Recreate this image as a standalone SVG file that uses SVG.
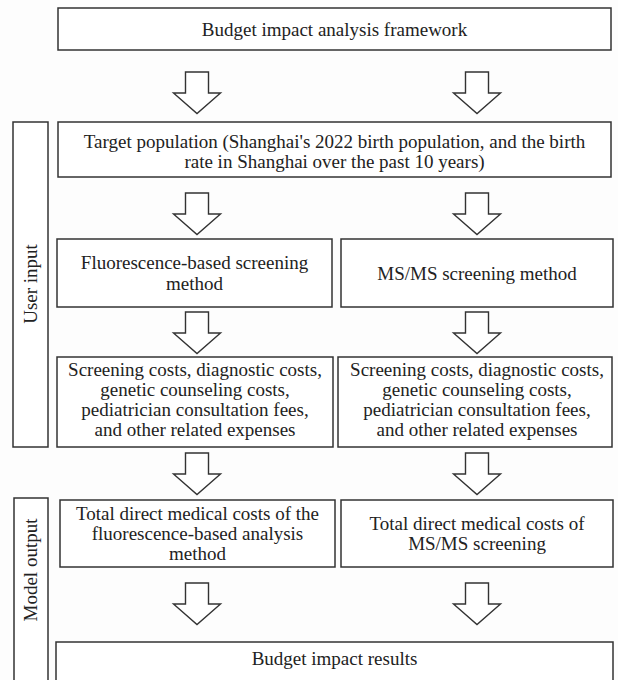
<svg xmlns="http://www.w3.org/2000/svg" xmlns:xlink="http://www.w3.org/1999/xlink" width="618" height="680" viewBox="0 0 618 680">
<style>
.box{fill:#ffffff;stroke:#333333;stroke-width:1.5}
.t{font-family:"Liberation Serif","Times New Roman",serif;font-size:19px;fill:#222222;text-anchor:middle}
.arr{fill:#ffffff;stroke:#333333;stroke-width:1.4;stroke-linejoin:miter}
</style>
<defs>
<path id="ar" class="arr" d="M -11.5 0 H 11.5 V 21 H 23.5 L 0 41.5 L -23.5 21 H -11.5 Z"/>
</defs>
<rect width="618" height="680" fill="#fdfdfd"/>
<g id="top">
<rect class="box" x="58" y="8" width="553" height="42"/>
<text class="t" x="334.5" y="36">Budget impact analysis framework</text>
</g>
<g id="user-input">
<rect class="box" x="13" y="122" width="35" height="325"/>
<text class="t" transform="translate(37,284) rotate(-90)">User input</text>
</g>
<g id="target">
<rect class="box" x="58" y="122" width="553" height="55"/>
<text class="t" x="334.5" y="148">Target population (Shanghai's 2022 birth population, and the birth</text>
<text class="t" x="334.5" y="168">rate in Shanghai over the past 10 years)</text>
</g>
<g id="fluor">
<rect class="box" x="57" y="239" width="275" height="68"/>
<text class="t" x="194.5" y="269">Fluorescence-based screening</text>
<text class="t" x="194.5" y="290">method</text>
</g>
<g id="msms">
<rect class="box" x="341" y="239" width="272" height="68"/>
<text class="t" x="477" y="280">MS/MS screening method</text>
</g>
<g id="costs-left">
<rect class="box" x="57" y="357" width="276" height="90"/>
<text class="t" x="195" y="376">Screening costs, diagnostic costs,</text>
<text class="t" x="195" y="396">genetic counseling costs,</text>
<text class="t" x="195" y="416">pediatrician consultation fees,</text>
<text class="t" x="195" y="436">and other related expenses</text>
</g>
<g id="costs-right">
<rect class="box" x="338" y="357" width="274" height="90"/>
<text class="t" x="477" y="376">Screening costs, diagnostic costs,</text>
<text class="t" x="477" y="396">genetic counseling costs,</text>
<text class="t" x="477" y="416">pediatrician consultation fees,</text>
<text class="t" x="477" y="436">and other related expenses</text>
</g>
<g id="model-output">
<rect class="box" x="14" y="498" width="34" height="190"/>
<text class="t" transform="translate(37,570) rotate(-90)">Model output</text>
</g>
<g id="total-left">
<rect class="box" x="60" y="500" width="275" height="67"/>
<text class="t" x="197.5" y="520">Total direct medical costs of the</text>
<text class="t" x="197.5" y="540">fluorescence-based analysis</text>
<text class="t" x="197.5" y="560">method</text>
</g>
<g id="total-right">
<rect class="box" x="341" y="500" width="272" height="67"/>
<text class="t" x="477" y="530">Total direct medical costs of</text>
<text class="t" x="477" y="550">MS/MS screening</text>
</g>
<g id="results">
<rect class="box" x="56" y="642" width="557" height="50"/>
<text class="t" x="334.5" y="665">Budget impact results</text>
</g>
<g id="connectors">
<use xlink:href="#ar" x="197" y="72"/>
<use xlink:href="#ar" x="477" y="72"/>
<use xlink:href="#ar" x="197" y="193"/>
<use xlink:href="#ar" x="477" y="193"/>
<use xlink:href="#ar" x="197" y="312"/>
<use xlink:href="#ar" x="477" y="312"/>
<use xlink:href="#ar" x="197" y="453"/>
<use xlink:href="#ar" x="477" y="453"/>
<use xlink:href="#ar" x="197" y="583"/>
<use xlink:href="#ar" x="477" y="583"/>
</g>
</svg>
